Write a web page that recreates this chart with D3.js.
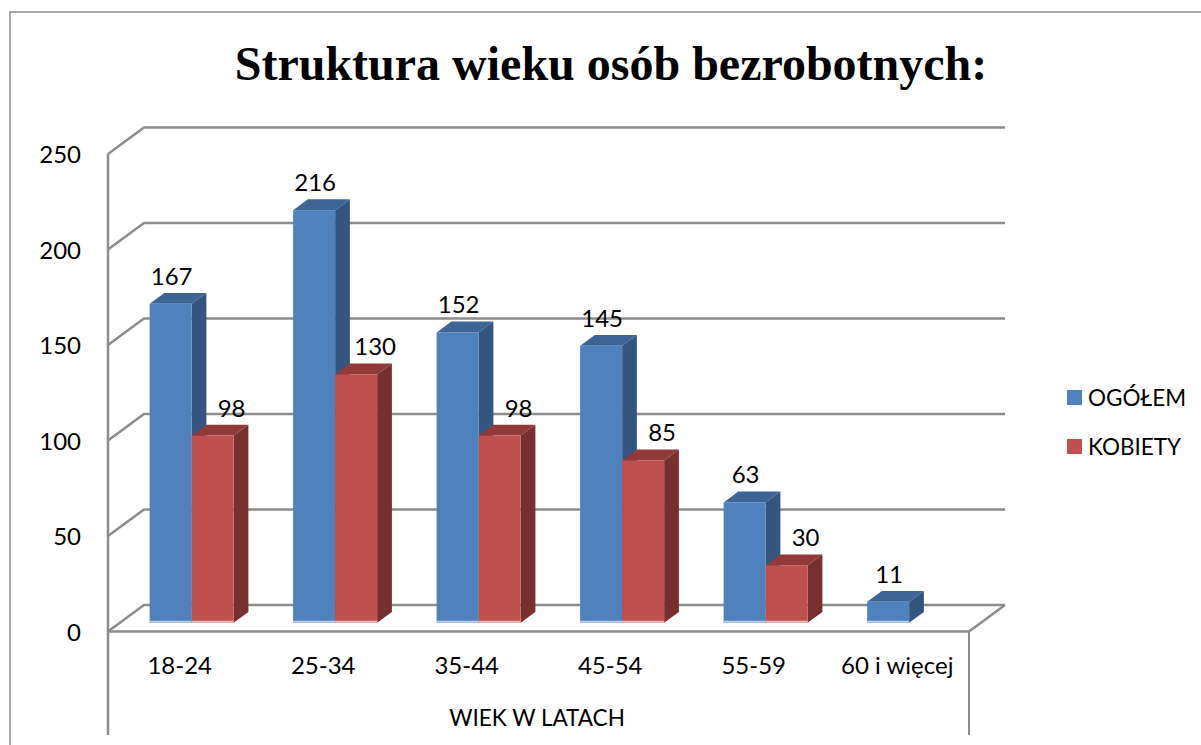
<!DOCTYPE html>
<html>
<head>
<meta charset="utf-8">
<script src="https://cdn.jsdelivr.net/npm/d3@7"></script>
<style>
  body { margin: 0; background: #fff; }
  svg { display: block; }
</style>
</head>
<body>
<svg id="chart" width="1201" height="745"></svg>
<script>
// data
const categories = ["18-24", "25-34", "35-44", "45-54", "55-59", "60 i więcej"];
const seriesNames = ["OGÓŁEM", "KOBIETY"];
const ogolem = [167, 216, 152, 145, 63, 11];
const kobiety = [98, 130, 98, 85, 30, null];
const yTicks = [0, 50, 100, 150, 200, 250];

const title = "Struktura wieku osób bezrobotnych:";
const xTitle = "WIEK W LATACH";

const colors = {
  "OGÓŁEM": { front: "#4f81bd", top: "#3c6596", side: "#34557f", edge: "#b9cde6" },
  "KOBIETY": { front: "#c0504d", top: "#923a37", side: "#78302e", edge: "#e8bcbb" }
};
// red labels sit a bit to the right so they clear the blue bar's side
const labelShift = { "OGÓŁEM": 1, "KOBIETY": 19 };

const svg = d3.select("#chart");
const font = "Lato, 'Open Sans', sans-serif";

// 3D frame
const left = 108, right = 969;
const depthX = 36, depthY = -26.5;
const barFront = 0.33, barBack = 0.74;

const y = d3.scaleLinear().domain([0, 250]).range([631.5, 154]);
const x0 = d3.scaleBand().domain(categories).range([left, right]);
const x1 = d3.scaleBand().domain(seriesNames).range([0, x0.bandwidth()]).paddingOuter(0.708);

const proj = (px, py, d) => [px + d * depthX, py + d * depthY];
const gridColor = "#8c8c8c";
const pts = arr => arr.map(p => p.join(",")).join(" ");

// outer border
svg.append("path")
  .attr("d", "M10,745 L10,12 L1201,12")
  .attr("fill", "none").attr("stroke", "#8a8a8a").attr("stroke-width", 1.5);

// back wall + side wall grid lines
yTicks.forEach(t => {
  svg.append("polyline")
    .attr("points", pts([proj(left, y(t), 0), proj(left, y(t), 1), proj(right, y(t), 1)]))
    .attr("fill", "none").attr("stroke", gridColor).attr("stroke-width", 2.5);
});

// floor + front edges
svg.append("polyline")
  .attr("points", pts([[left, 735], [left, y(250)]]))
  .attr("fill", "none").attr("stroke", gridColor).attr("stroke-width", 2.5);
svg.append("polyline")
  .attr("points", pts([[left, y(0)], proj(right, y(0), 0), proj(right, y(0), 1)]))
  .attr("fill", "none").attr("stroke", gridColor).attr("stroke-width", 2.5);
svg.append("line")
  .attr("x1", right).attr("y1", y(0)).attr("x2", right).attr("y2", 735)
  .attr("stroke", gridColor).attr("stroke-width", 2);

// bars
const bars = [];
categories.forEach((c, i) => {
  [ogolem[i], kobiety[i]].forEach((v, j) => {
    if (v == null) return;
    bars.push({ cat: c, name: seriesNames[j], value: v });
  });
});

bars.forEach(b => {
  const xa = x0(b.cat) + x1(b.name), xb = xa + x1.bandwidth();
  const yt = y(b.value), yb = y(0);
  const col = colors[b.name];
  const g = svg.append("g");
  // top
  g.append("polygon")
    .attr("points", pts([proj(xa, yt, barFront), proj(xb, yt, barFront), proj(xb, yt, barBack), proj(xa, yt, barBack)]))
    .attr("fill", col.top);
  // side
  g.append("polygon")
    .attr("points", pts([proj(xb, yt, barFront), proj(xb, yt, barBack), proj(xb, yb, barBack), proj(xb, yb, barFront)]))
    .attr("fill", col.side);
  // front
  const p0 = proj(xa, yt, barFront), p1 = proj(xb, yb, barFront);
  g.append("rect")
    .attr("x", p0[0]).attr("y", p0[1])
    .attr("width", p1[0] - p0[0]).attr("height", p1[1] - p0[1])
    .attr("fill", col.front);
  g.append("line")
    .attr("x1", p0[0]).attr("x2", p1[0]).attr("y1", p1[1] - 1).attr("y2", p1[1] - 1)
    .attr("stroke", col.edge).attr("stroke-width", 2);
});

// value labels on top of everything
bars.forEach(b => {
  const xa = x0(b.cat) + x1(b.name), xb = xa + x1.bandwidth();
  const p0 = proj(xa, y(b.value), barFront), p1 = proj(xb, y(b.value), barFront);
  svg.append("text")
    .attr("x", (p0[0] + p1[0]) / 2 + labelShift[b.name]).attr("y", p0[1] - 19)
    .attr("text-anchor", "middle")
    .style("font-family", font).style("font-size", "24px").attr("fill", "#000")
    .text(b.value);
});

// y axis labels
yTicks.forEach(t => {
  svg.append("text")
    .attr("x", 81).attr("y", y(t) + 9)
    .attr("text-anchor", "end")
    .style("font-family", font).style("font-size", "24px")
    .text(t);
});

// category labels
categories.forEach(c => {
  svg.append("text")
    .attr("x", x0(c) + x0.bandwidth() / 2).attr("y", 674)
    .attr("text-anchor", "middle")
    .style("font-family", font).style("font-size", "24px")
    .text(c);
});

svg.append("text")
  .attr("x", 537).attr("y", 726)
  .attr("text-anchor", "middle")
  .style("font-family", font).style("font-size", "22.5px")
  .text(xTitle);

// title
svg.append("text")
  .attr("x", 611).attr("y", 80)
  .attr("text-anchor", "middle")
  .style("font-family", "'Liberation Serif', 'Times New Roman', serif")
  .style("font-weight", "bold").style("font-size", "48px")
  .text(title);

// legend
seriesNames.forEach((s, i) => {
  const ly = 390 + i * 49;
  svg.append("rect")
    .attr("x", 1067).attr("y", ly).attr("width", 15).attr("height", 15)
    .attr("fill", colors[s].front);
  svg.append("text")
    .attr("x", 1088).attr("y", ly + 16)
    .style("font-family", font).style("font-size", "22.5px")
    .text(s);
});
</script>
</body>
</html>
